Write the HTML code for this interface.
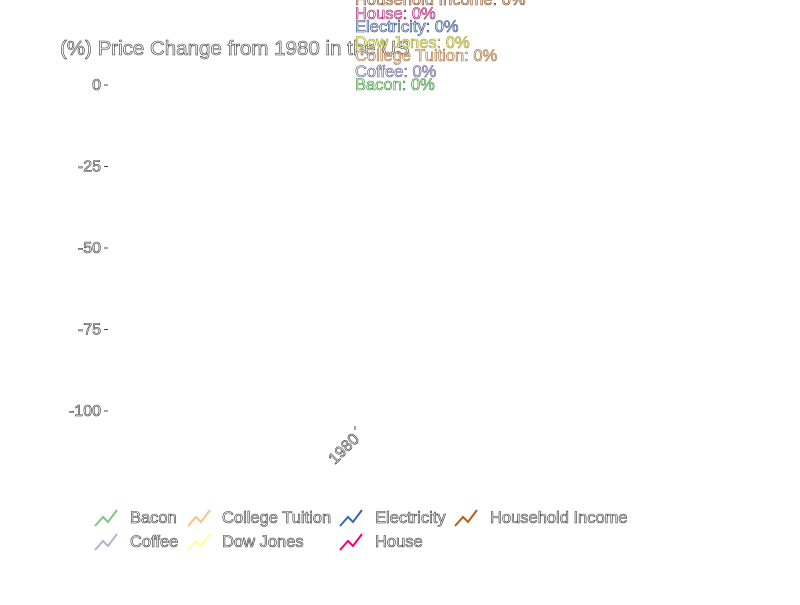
<!DOCTYPE html>
<html><head><meta charset="utf-8"><style>
body{margin:0;background:#fff;}
svg text{font-family:"Liberation Sans",sans-serif;fill:#fff;stroke:#333;stroke-width:0.6px;}
</style></head><body>
<svg id="chart" width="800" height="600">
<text x="60" y="55" font-size="20.5">(%) Price Change from 1980 in the US</text>
<g id="yaxis"></g>
<g id="xaxis"></g>
<g id="labels"></g>
<g id="legend"></g>
</svg>
<script>
const years = ['1980'];
const seriesNames = ['Bacon','Coffee','College Tuition','Dow Jones','Electricity','House','Household Income'];
const bacon = [0];
const coffee = [0];
const tuition = [0];
const dowJones = [0];
const electricity = [0];
const house = [0];
const income = [0];
const yTicks = [0,-25,-50,-75,-100];
const colors = ['#7fc97f','#beaed4','#fdc086','#ffff99','#386cb0','#f0027f','#bf5b17'];
const textColors = ['#2e8b2e','#55508a','#a0622a','#999900','#1c3f7a','#a0005a','#7a3a0e'];
const allSeries = [bacon,coffee,tuition,dowJones,electricity,house,income];
const NS='http://www.w3.org/2000/svg';
const y = v => 85 + (0 - v) * 3.26;
const x = i => 355 + i * 40;
function mk(tag, attrs, parent){const e=document.createElementNS(NS,tag);for(const k in attrs)e.setAttribute(k,attrs[k]);parent.appendChild(e);return e;}
const ya=document.getElementById('yaxis');
yTicks.forEach(t=>{
  const l=mk('line',{x1:104,x2:108,y1:y(t),y2:y(t),stroke:'#444'},ya);
  
  
  const tx=mk('text',{x:101,y:y(t)+5,'text-anchor':'end','font-size':16},ya);
  tx.textContent=t;
  
  
});
const xa=document.getElementById('xaxis');
years.forEach((yr,i)=>{
  const l=mk('line',{x1:x(i),x2:x(i),y1:426,y2:430,stroke:'#444'},xa);
  
  
  const tx=mk('text',{x:x(i)+5,y:440,'text-anchor':'end','font-size':16,transform:`rotate(-45 ${x(i)+5} 440)`},xa);
  tx.textContent=yr;
  
  
});
const lab=document.getElementById('labels');
const labelY=[85,72,56,43,27,14,0];
seriesNames.forEach((n,s)=>{
  const arr=allSeries[s];
  const last=arr.length-1;
  const tx=mk('text',{x:x(last),y:labelY[s]+5,'font-size':16.5},lab);
  tx.style.stroke=textColors[s];
  tx.textContent=n+': '+arr[last]+'%';
  
  
});
const lg=document.getElementById('legend');
const order=[0,2,4,6,1,3,5];
const colX=[95,188,340,455], txtX=[130,222,375,490];
order.forEach((s,k)=>{
  const col=k<4?k:k-4, row=k<4?0:1;
  const yy=518+row*24;
  const p=mk('polyline',{points:`${colX[col]},${yy+8} ${colX[col]+8},${yy-1} ${colX[col]+13},${yy+4} ${colX[col]+22},${yy-8}`,fill:'none',stroke:colors[s],'stroke-width':2},lg);
  
  
  const tx=mk('text',{x:txtX[col],y:yy+5,'font-size':16.5},lg);
  tx.textContent=seriesNames[s];
  
  
});
</script>
</body></html>
